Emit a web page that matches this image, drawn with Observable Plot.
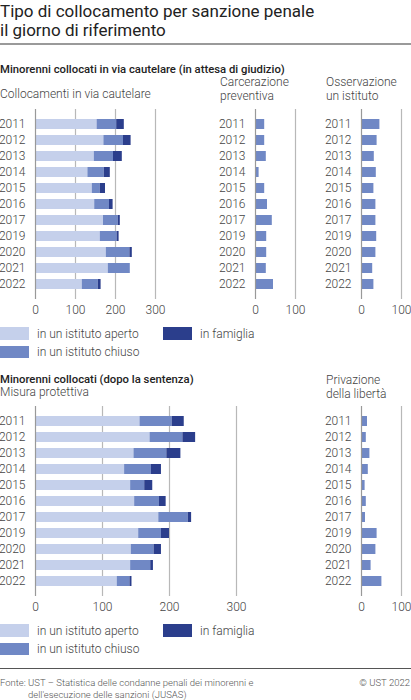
<!DOCTYPE html>
<html lang="it">
<head>
<meta charset="UTF-8">
<title>Tipo di collocamento per sanzione penale</title>
<script src="https://cdn.jsdelivr.net/npm/d3@7"></script>
<script src="https://cdn.jsdelivr.net/npm/@observablehq/plot@0.6/dist/plot.umd.min.js"></script>
<style>
  body { margin: 0; background: #fff; font-family: Roboto, "Noto Sans", sans-serif; }
  #chart { position: relative; width: 411px; height: 700px; overflow: hidden; color: #333; }
  .t { position: absolute; white-space: nowrap; }
  .title { font-size: 17px; line-height: 18.5px; color: #222; }
  .head { font-size: 11.3px; line-height: 13px; font-weight: 500; color: #222; }
  .sub { font-size: 12px; line-height: 13.5px; font-weight: 300; color: #444; }
  .leg { font-size: 12px; line-height: 14px; font-weight: 300; color: #444; }
  .sw { position: absolute; width: 29px; height: 12.5px; }
  .rule { position: absolute; left: 0; width: 411px; }
  .foot { font-size: 9.5px; line-height: 12px; font-weight: 300; color: #555; }
  .panel { position: absolute; }
  .panel svg { overflow: visible; }
</style>
</head>
<body>
<div id="chart">
  <div class="t title" style="left:0;top:2px">Tipo di collocamento per sanzione penale<br>il giorno di riferimento</div>
  <div class="rule" style="top:43px;height:2px;background:#9a9a9a"></div>

  <div class="t head" style="left:0;top:63px">Minorenni collocati in via cautelare (in attesa di giudizio)</div>
  <div class="t sub" style="left:0;top:88px">Collocamenti in via cautelare</div>
  <div class="t sub" style="left:220px;top:76px">Carcerazione<br>preventiva</div>
  <div class="t sub" style="left:326px;top:76px">Osservazione<br>un istituto</div>

  <div class="panel" id="p1" style="left:0;top:101px"></div>
  <div class="panel" id="p2" style="left:215px;top:101px"></div>
  <div class="panel" id="p3" style="left:321px;top:101px"></div>

  <div id="leg1"></div>

  <div class="t head" style="left:0;top:373px">Minorenni collocati (dopo la sentenza)</div>
  <div class="t sub" style="left:0;top:386px">Misura protettiva</div>
  <div class="t sub" style="left:326px;top:374px">Privazione<br>della libertà</div>

  <div class="panel" id="p4" style="left:0;top:398px"></div>
  <div class="panel" id="p5" style="left:321px;top:398px"></div>

  <div id="leg2"></div>

  <div class="rule" style="top:668px;height:1px;background:#555"></div>
  <div class="t foot" style="left:0;top:677px">Fonte: UST – Statistica delle condanne penali dei minorenni e<br><span style="padding-left:28px">dell'esecuzione delle sanzioni (JUSAS)</span></div>
  <div class="t foot" style="right:1px;top:677px">© UST 2022</div>
</div>

<script>
// anni (il 2018 manca nel grafico)
const years = ["2011", "2012", "2013", "2014", "2015", "2016", "2017", "2019", "2020", "2021", "2022"];
const categories = ["in un istituto aperto", "in un istituto chiuso", "in famiglia"];
const colors = ["#c5d0eb", "#7088c5", "#2b3e8c"];

// Minorenni collocati in via cautelare
const cautelareAperto   = [154, 171, 147, 131, 142, 148, 170, 162, 177, 182, 117];
const cautelareChiuso   = [49, 49, 48, 41, 20, 37, 37, 42, 59, 55, 40];
const cautelareFamiglia = [19, 19, 22, 15, 13, 9, 5, 5, 6, 0, 7];
const carcerazione      = [23, 23, 27, 9, 23, 30, 42, 28, 28, 27, 45];
const osservazione      = [46, 39, 32, 37, 31, 36, 36, 38, 36, 28, 31];

// Minorenni collocati dopo la sentenza
const protettivaAperto   = [156, 171, 147, 133, 142, 148, 184, 154, 143, 142, 122];
const protettivaChiuso   = [48, 49, 49, 40, 21, 37, 44, 34, 34, 30, 19];
const protettivaFamiglia = [18, 19, 21, 15, 12, 10, 5, 12, 11, 4, 3];
const privazione         = [15, 12, 21, 17, 9, 12, 10, 39, 36, 24, 51];

const ticksWide = [0, 100, 200, 300];
const ticksNarrow = [0, 100];

function longTable(series) {
  const rows = [];
  years.forEach((y, i) => {
    series.forEach((s, j) => rows.push({year: y, cat: categories[j], value: s[i]}));
  });
  return rows;
}

function panel(sel, data, {width, maxX, ticks, marginLeft, marginRight, fillOne}) {
  const plot = Plot.plot({
    width,
    height: 216,
    marginTop: 8,
    marginBottom: 18,
    marginLeft,
    marginRight,
    style: {fontFamily: "Roboto, sans-serif", fontSize: "12px", fontWeight: 300, color: "#444", background: "none", overflow: "visible"},
    x: {domain: [0, maxX]},
    y: {domain: years, padding: 0.4},
    color: {domain: categories, range: colors},
    marks: [
      Plot.ruleX(ticks.slice(1), {stroke: "#b8b8b8", strokeWidth: 1.2}),
      fillOne
        ? Plot.barX(data, {y: "year", x: "value", fill: colors[1]})
        : Plot.barX(data, {y: "year", x: "value", fill: "cat"}),
      Plot.ruleX([0], {stroke: "#999", strokeWidth: 1.2}),
      Plot.axisY({tickSize: 0, tickPadding: 10, label: null}),
      Plot.axisX({ticks, tickSize: 0, tickPadding: 6, label: null})
    ]
  });
  document.querySelector(sel).append(plot);
}

function legend(sel, top) {
  const el = document.querySelector(sel);
  const pos = [[0, top], [0, top + 18.5], [163, top]];
  categories.forEach((c, i) => {
    const [x, y] = pos[i];
    el.insertAdjacentHTML("beforeend",
      `<div class="sw" style="left:${x}px;top:${y}px;background:${colors[i]}"></div>` +
      `<div class="t leg" style="left:${x + 37}px;top:${y - 0.5}px">${c}</div>`);
  });
}

panel("#p1", longTable([cautelareAperto, cautelareChiuso, cautelareFamiglia]),
  {width: 170, maxX: 300, ticks: ticksWide, marginLeft: 35, marginRight: 15});
panel("#p2", years.map((y, i) => ({year: y, value: carcerazione[i]})),
  {width: 95, maxX: 100, ticks: ticksNarrow, marginLeft: 40, marginRight: 15, fillOne: true});
panel("#p3", years.map((y, i) => ({year: y, value: osservazione[i]})),
  {width: 90, maxX: 100, ticks: ticksNarrow, marginLeft: 40, marginRight: 10, fillOne: true});

panel("#p4", longTable([protettivaAperto, protettivaChiuso, protettivaFamiglia]),
  {width: 251, maxX: 300, ticks: ticksWide, marginLeft: 35, marginRight: 15});
panel("#p5", years.map((y, i) => ({year: y, value: privazione[i]})),
  {width: 90, maxX: 100, ticks: ticksNarrow, marginLeft: 40, marginRight: 10, fillOne: true});

legend("#leg1", 327);
legend("#leg2", 624);
</script>
</body>
</html>
